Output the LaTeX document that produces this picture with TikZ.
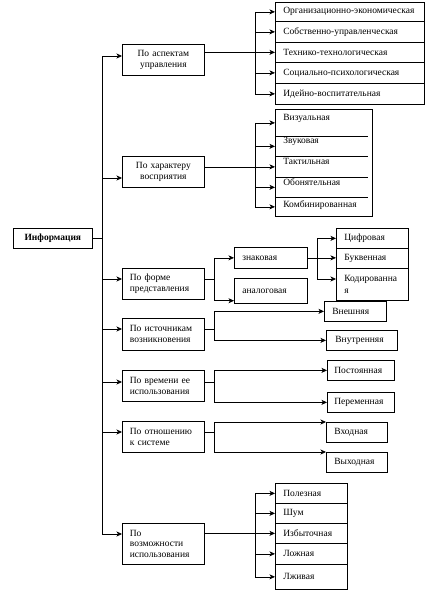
\documentclass[tikz,border=0pt]{standalone}
\usepackage{fontspec}
\setmainfont{Liberation Serif}
\usetikzlibrary{arrows.meta,calc}
\begin{document}
\begin{tikzpicture}[x=1pt,y=-1pt,
  font=\fontsize{9.5}{11}\selectfont,
  line width=0.7pt,
  arr/.style={-{Stealth[length=5.5pt,width=5pt,inset=1.5pt]}},
  bx/.style={draw, anchor=north west, inner ysep=0pt, inner xsep=0pt},
  cat/.style={bx, minimum width=82pt, minimum height=31pt, text width=67pt, inner xsep=7.5pt, align=left},
  catc/.style={cat, align=center},
  rowbox/.style={bx, text width=#1, inner xsep=8pt, align=left},
  lrow/.style n args={3}{anchor=north west, inner xsep=8pt, inner ysep=0pt, text width=#1, align=left, text height=#2, text depth=#3},
]
\useasboundingbox (0,0) rectangle (433,592);

% main node
\node[bx, minimum width=79pt, minimum height=20pt, font=\fontsize{9.5}{11}\selectfont\bfseries] (info) at (13,228) {Информация};

% categories
\node[catc] (c1) at (122,44) {По аспектам\\управления};
\node[catc] (c2) at (122,156) {По характеру\\восприятия};
\node[cat] (c3) at (122,268) {По форме\\представления};
\node[cat, minimum height=32pt] (c4) at (122,318) {По источникам\\возникновения};
\node[cat] (c5) at (122,370) {По времени ее\\использования};
\node[cat] (c6) at (122,421) {По отношению\\к системе};
\node[cat, minimum height=41pt, font=\fontsize{9.5}{10.5}\selectfont] (c7) at (122,523) {По\\возможности\\использования};

% group 1
\node[rowbox=133pt, minimum height=19pt] (r11) at (275,2) {Организационно-экономическая};
\node[rowbox=133pt, minimum height=21pt] (r12) at (275,21) {Собственно-управленческая};
\node[rowbox=133pt, minimum height=20pt] (r13) at (275,42) {Технико-технологическая};
\node[rowbox=133pt, minimum height=21pt] (r14) at (275,62) {Социально-психологическая};
\node[rowbox=133pt, minimum height=21pt] (r15) at (275,83) {Идейно-воспитательная};

% group 2
\node[bx, minimum width=97pt, minimum height=107pt] (g2) at (275,109) {};
\node[lrow={80pt}{11pt}{16pt}] (r21) at (275,109) {Визуальная};
\node[lrow={80pt}{7pt}{13pt}] (r22) at (275,136) {Звуковая};
\node[lrow={80pt}{8pt}{13pt}] (r23) at (275,156) {Тактильная};
\node[lrow={80pt}{8pt}{12pt}] (r24) at (275,177) {Обонятельная};
\node[lrow={80pt}{10pt}{9pt}] (r25) at (275,197) {Комбинированная};
\foreach \r in {r22,r23,r24,r25} \draw (\r.north west) -- ++(93,0);

% group 3
\node[rowbox=57pt, minimum height=21pt] (zn) at (234,247) {знаковая};
\node[rowbox=57pt, minimum height=25pt] (an) at (234,278) {аналоговая};
\node[rowbox=56pt, minimum height=20pt] (d1) at (336,228) {Цифровая};
\node[rowbox=56pt, minimum height=20pt] (d2) at (336,248) {Буквенная};
\node[rowbox=56pt, minimum height=32pt, font=\fontsize{9.5}{12}\selectfont] (d3) at (336,268) {Кодированна\\я};

% group 4
\node[rowbox=46pt, minimum height=20pt] (ex) at (324,301) {Внешняя};
\node[rowbox=53pt, minimum height=20pt, inner xsep=9pt] (in) at (326,330) {Внутренняя};

% group 5
\node[rowbox=53pt, minimum height=20pt, inner xsep=7pt] (po) at (327,360) {Постоянная};
\node[rowbox=53pt, minimum height=20pt, inner xsep=7pt] (pe) at (327,392) {Переменная};

% group 6
\node[rowbox=45pt, minimum height=20pt] (vx) at (326,422) {Входная};
\node[rowbox=45pt, minimum height=20pt] (vy) at (326,452) {Выходная};

% group 7
\node[rowbox=56pt, minimum height=20pt] (s1) at (275,483) {Полезная};
\node[rowbox=56pt, minimum height=20pt] (s2) at (275,503) {Шум};
\node[rowbox=56pt, minimum height=20pt] (s3) at (275,523) {Избыточная};
\node[rowbox=56pt, minimum height=21pt] (s4) at (275,543) {Ложная};
\node[rowbox=56pt, minimum height=25pt] (s5) at (275,564) {Лживая};

% trunk
\coordinate (t1) at (102,56);
\coordinate (t2) at (102,178);
\coordinate (t3) at (102,279);
\coordinate (t4) at (102,329);
\coordinate (t5) at (102,382);
\coordinate (t6) at (102,432);
\coordinate (t7) at (102,534);
\draw (info.east) -- (info.east -| t1);
\draw (t1) -- (t7);
\foreach \i in {1,...,7} \draw[arr] (t\i) -- (t\i -| c\i.west);

% group 1 connectors
\coordinate (v1) at (255,0);
\draw (c1.east |- r13.west) -- (v1 |- r13.west);
\draw (v1 |- r11.west) -- (v1 |- r15.west);
\foreach \r in {r11,r12,r13,r14,r15} \draw[arr] (v1 |- \r.west) -- (\r.west);

% group 2 connectors
\coordinate (v2) at (255,0);
\draw (c2.east |- r23.west) -- (v2 |- r23.west);
\draw (v2 |- r21.west) -- (v2 |- r25.west);
\foreach \r in {r21,r22,r23,r24,r25} \draw[arr] (v2 |- \r.west) -- (\r.west);

% group 3 connectors
\coordinate (j3) at (214,279);
\coordinate (a3) at ($(an.south west)+(0,-3)$);
\draw (c3.east |- j3) -- (j3);
\draw (j3 |- zn.west) -- (j3 |- a3);
\draw[arr] (j3 |- zn.west) -- (zn.west);
\draw[arr] (j3 |- a3) -- (a3);

\coordinate (v4) at (317,0);
\coordinate (a43) at ($(d3.north west)+(0,11)$);
\draw[arr] (zn.east) -- (zn.east -| d2.west);
\draw (v4 |- d1.west) -- (v4 |- a43);
\draw[arr] (v4 |- d1.west) -- (d1.west);
\draw[arr] (v4 |- a43) -- (a43);

% group 4 connectors
\coordinate (j4) at (214,329);
\draw (c4.east |- j4) -- (j4);
\draw (j4 |- ex.west) -- (j4 |- in.west);
\draw[arr] (j4 |- ex.west) -- (ex.west);
\draw[arr] (j4 |- in.west) -- (in.west);

% group 5 connectors
\coordinate (j5) at (214,382);
\draw (c5.east |- j5) -- (j5);
\draw (j5 |- po.west) -- (j5 |- pe.west);
\draw[arr] (j5 |- po.west) -- (po.west);
\draw[arr] (j5 |- pe.west) -- (pe.west);

% group 6 connectors
\coordinate (j6) at (214,432);
\draw (c6.east |- j6) -- (j6);
\draw (j6 |- vx.north west) -- (j6 |- vy.north west);
\draw[arr] (j6 |- vx.north west) -- (vx.north west);
\draw[arr] (j6 |- vy.north west) -- (vy.north west);

% group 7 connectors
\coordinate (v7) at (255,0);
\draw (c7.east |- s3.west) -- (v7 |- s3.west);
\draw (v7 |- s1.west) -- (v7 |- s5.west);
\foreach \r in {s1,s2,s3,s4,s5} \draw[arr] (v7 |- \r.west) -- (\r.west);
\end{tikzpicture}
\end{document}
